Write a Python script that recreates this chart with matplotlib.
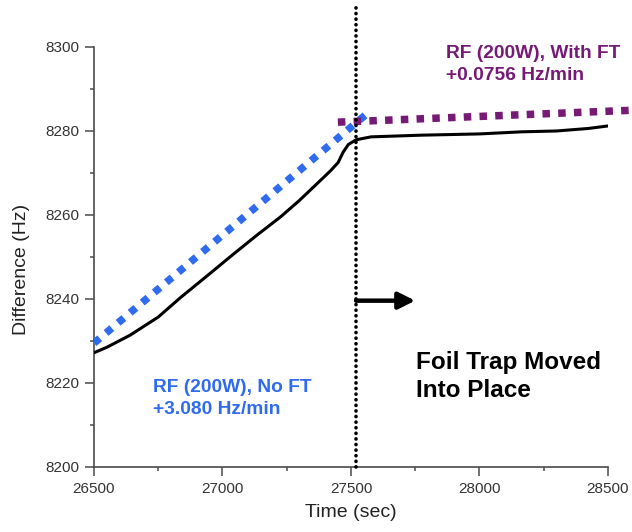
import matplotlib
matplotlib.use("Agg")
import matplotlib.pyplot as plt
from matplotlib.ticker import MultipleLocator

plt.rcParams["font.family"] = ["Liberation Sans", "DejaVu Sans"]

time_s = [26500, 26550, 26641, 26750, 26836, 26950, 27031, 27130, 27227, 27300,
          27355, 27420, 27450, 27470, 27490, 27520, 27578, 27773, 28000, 28164,
          28300, 28424, 28500]
diff_hz = [8227.2, 8228.5, 8231.4, 8235.7, 8240.3, 8246.0, 8250.1, 8255.0, 8259.6, 8263.5,
           8266.7, 8270.5, 8272.5, 8275.0, 8276.8, 8277.9, 8278.6, 8279.0, 8279.3, 8279.8,
           8280.0, 8280.6, 8281.2]

# fitted trends
fit_noft_x = [26500, 27566]
fit_noft_y = [8229.5, 8284.3]
fit_ft_x = [27449, 28620]
fit_ft_y = [8282.1, 8285.0]

ft_time = 27520
BLUE = "#2f6bef"
PURPLE = "#761a76"

fig = plt.figure(figsize=(6.32, 5.32), dpi=100)
ax = fig.add_axes([0.1487, 0.1222, 0.8133, 0.7895])

ax.plot(time_s, diff_hz, color="black", linewidth=2.2, zorder=3)
ax.plot(fit_noft_x, fit_noft_y, color=BLUE, linewidth=5.4,
        linestyle=(0, (1, 1.1)), dash_capstyle="butt", zorder=4)
ax.plot(fit_ft_x, fit_ft_y, color=PURPLE, linewidth=5.4,
        linestyle=(0, (1, 1.1)), dash_capstyle="butt", zorder=4, clip_on=False)
ax.plot([ft_time, ft_time], [8200, 8309.5], color="black", linewidth=2.6,
        linestyle=(0, (0.05, 1.5)), dash_capstyle="round", zorder=5, clip_on=False)

ax.annotate("", xy=(27750, 8239.6), xytext=(ft_time, 8239.6),
            arrowprops=dict(arrowstyle="-|>,head_length=1.0,head_width=0.5",
                            color="black", linewidth=3.2, shrinkA=0, shrinkB=0))

ax.text(27871, 8300.5, "RF (200W), With FT\n+0.0756 Hz/min", color=PURPLE,
        fontsize=13.8, fontweight="bold", ha="left", va="top", linespacing=1.42)
ax.text(26730, 8221.0, "RF (200W), No FT\n+3.080 Hz/min", color=BLUE,
        fontsize=13.8, fontweight="bold", ha="left", va="top", linespacing=1.42)
ax.text(27754, 8227.6, "Foil Trap Moved\nInto Place", color="black",
        fontsize=17.5, fontweight="bold", ha="left", va="top", linespacing=1.3)

ax.set_xlim(26500, 28500)
ax.set_ylim(8200, 8300)
ax.xaxis.set_major_locator(MultipleLocator(500))
ax.xaxis.set_minor_locator(MultipleLocator(250))
ax.yaxis.set_major_locator(MultipleLocator(20))
ax.yaxis.set_minor_locator(MultipleLocator(10))

for side in ("top", "right"):
    ax.spines[side].set_visible(False)
for side in ("left", "bottom"):
    ax.spines[side].set_color("#4a4a4a")
    ax.spines[side].set_linewidth(1.2)

ax.tick_params(which="major", direction="out", length=6.5, width=1.1,
               color="#4a4a4a", labelsize=11, labelcolor="#333333", pad=4)
ax.tick_params(which="minor", direction="out", length=3, width=1.1, color="#4a4a4a")

ax.set_xlabel("Time (sec)", fontsize=14, color="#222222", labelpad=6)
ax.set_ylabel("Difference (Hz)", fontsize=14, color="#222222", labelpad=8)
ax.yaxis.set_label_coords(-0.125, 0.47)

fig.savefig("out.png", dpi=100)
